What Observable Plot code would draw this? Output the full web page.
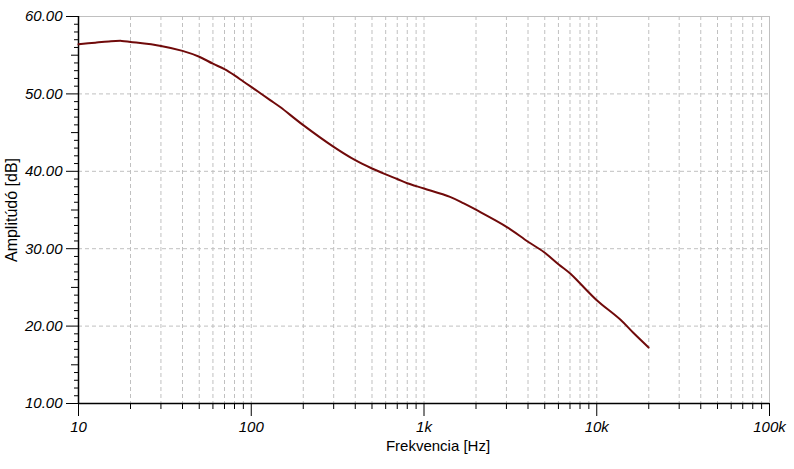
<!DOCTYPE html>
<html>
<head>
<meta charset="utf-8">
<script src="https://cdn.jsdelivr.net/npm/d3@7"></script>
<script src="https://cdn.jsdelivr.net/npm/@observablehq/plot@0.6"></script>
<style>
  html, body { margin: 0; padding: 0; background: #fff; }
</style>
</head>
<body>
<div id="chart"></div>
<script>
// Frequency (Hz) and amplitude (dB)
const freq = [10, 12.5, 15, 17.8, 20, 30, 40, 50, 60, 70, 80, 90, 100, 128.7, 147, 200, 300, 400, 500, 600, 700, 800, 1000, 1414, 1700, 2023, 3020, 4000, 4920, 6000, 7020, 8020, 10000, 13680, 16330, 19950];
const amp  = [56.4, 56.62, 56.78, 56.85, 56.72, 56.2, 55.56, 54.8, 53.9, 53.2, 52.4, 51.6, 50.9, 49.2, 48.3, 45.96, 43.15, 41.43, 40.36, 39.6, 39.0, 38.45, 37.78, 36.7, 35.85, 34.97, 32.8, 30.9, 29.6, 28.0, 26.8, 25.5, 23.35, 20.85, 19.1, 17.24];

const xMajorTicks = [10, 100, 1000, 10000, 100000];
const xTickLabels = ["10", "100", "1k", "10k", "100k"];
const yMajorTicks = [10, 20, 30, 40, 50, 60];
const xLabel = "Frekvencia [Hz]";
const yLabel = "Amplitúdó [dB]";

const data = freq.map((f, i) => ({f, a: amp[i]}));

const xMinor = [];
for (let d = 10; d < 100000; d *= 10) for (let k = 2; k <= 9; k++) xMinor.push(k * d);
const xGrid = xMinor.concat([100, 1000, 10000]);
const yMid = [15, 25, 35, 45, 55];
const yMinor = d3.range(11, 60).filter(v => v % 5 !== 0);
const labelOf = new Map(xMajorTicks.map((t, i) => [t, xTickLabels[i]]));

const grid = "#c0c0c0";
const font = "'Liberation Sans', Arial, sans-serif";

const chart = Plot.plot({
  width: 794,
  height: 469,
  marginLeft: 78,
  marginRight: 25,
  marginTop: 16,
  marginBottom: 66,
  style: {fontFamily: font, fontSize: "15px", background: "#fff", color: "#000"},
  x: {type: "log", domain: [10, 100000], label: null},
  y: {domain: [10, 60], label: null},
  marks: [
    Plot.gridX(xGrid, {stroke: grid, strokeOpacity: 1, strokeDasharray: "4,3"}),
    Plot.gridY([20, 30, 40, 50], {stroke: grid, strokeOpacity: 1, strokeDasharray: "4,3"}),
    Plot.ruleY([60], {stroke: grid}),
    Plot.ruleX([100000], {stroke: grid}),
    Plot.axisX(xMinor, {tickSize: 6, text: null, stroke: "#000"}),
    Plot.axisX(xMajorTicks, {tickSize: 13, tickPadding: 5, tickFormat: d => labelOf.get(d), fontStyle: "italic", fontSize: 15, stroke: "#000"}),
    Plot.axisY(yMinor, {tickSize: 4, text: null}),
    Plot.axisY(yMid, {tickSize: 7, text: null}),
    Plot.axisY(yMajorTicks, {tickSize: 12, tickPadding: 4, tickFormat: d3.format(".2f"), fontStyle: "italic", fontSize: 15}),
    Plot.ruleX([10], {stroke: "#000", strokeWidth: 1.5}),
    Plot.ruleY([10], {stroke: "#000", strokeWidth: 1.5}),
    Plot.line(data, {x: "f", y: "a", stroke: "#700a0a", strokeWidth: 2, curve: "catmull-rom"}),
    Plot.text([xLabel], {frameAnchor: "bottom", dy: 47, dx: 14, lineAnchor: "bottom", fontSize: 15}),
    Plot.text([yLabel], {frameAnchor: "left", dx: -62, rotate: -90, lineAnchor: "bottom", textAnchor: "middle", fontSize: 16, letterSpacing: "0.5px"})
  ]
});
document.getElementById("chart").appendChild(chart);
</script>
</body>
</html>
